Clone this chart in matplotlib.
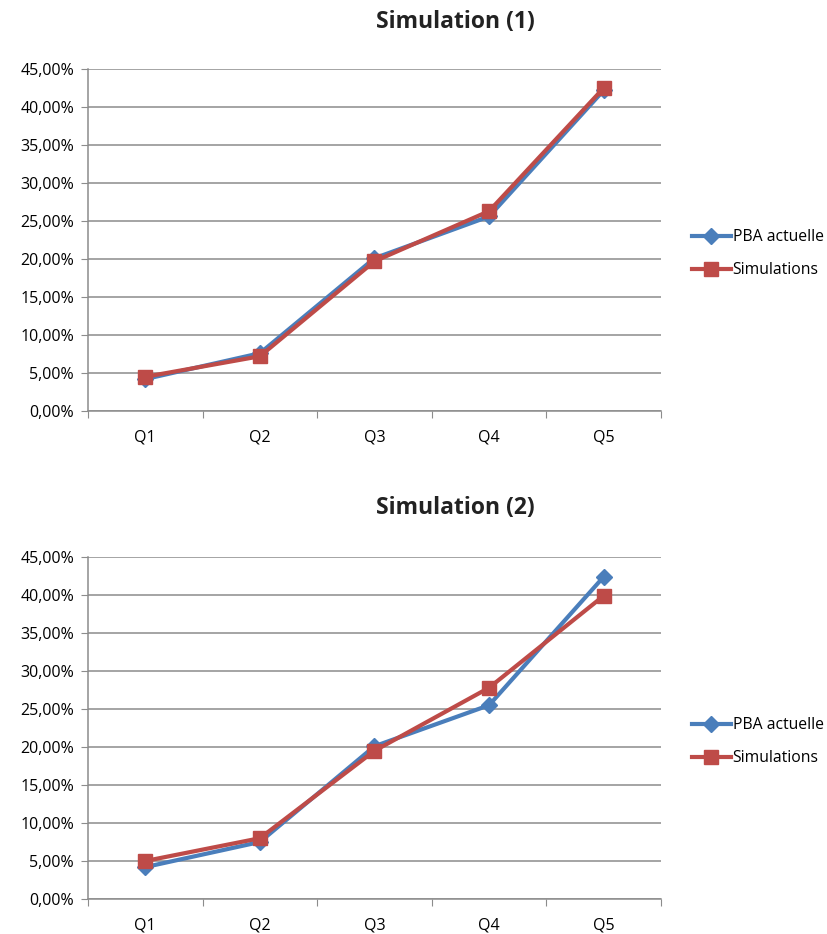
import matplotlib
matplotlib.use("Agg")
import matplotlib.pyplot as plt
from matplotlib.ticker import FixedLocator, FuncFormatter

plt.rcParams['font.family'] = ['Open Sans', 'DejaVu Sans']

categories = ["Q1", "Q2", "Q3", "Q4", "Q5"]
pba_1 = [4.2, 7.6, 20.1, 25.6, 42.2]
sim_1 = [4.5, 7.2, 19.7, 26.3, 42.5]
pba_2 = [4.2, 7.5, 20.1, 25.5, 42.4]
sim_2 = [5.0, 8.0, 19.5, 27.8, 39.9]
titles = ["Simulation (1)", "Simulation (2)"]
series_names = ["PBA actuelle", "Simulations"]

BLUE = "#4A7EBB"
RED = "#BE4B48"
GRID = "#8C8C8C"

fig = plt.figure(figsize=(8.27, 9.34), dpi=100)
W, H = 827, 934

def px_axes(left, top, right, bottom):
    return fig.add_axes([left / W, 1 - bottom / H, (right - left) / W, (bottom - top) / H])

axes = [px_axes(88, 69, 661, 411), px_axes(88, 557, 661, 899)]
data = [(pba_1, sim_1), (pba_2, sim_2)]
title_y = [22, 508]

for ax, (pba, sim), title, ty in zip(axes, data, titles, title_y):
    x = list(range(len(categories)))
    ax.plot(x, pba, color=BLUE, lw=3.0, marker="D", markersize=8, label=series_names[0], zorder=3)
    ax.plot(x, sim, color=RED, lw=3.0, marker="s", markersize=10, label=series_names[1], zorder=4)
    ax.set_xlim(-0.5, len(categories) - 0.5)
    ax.set_ylim(0, 45)
    ax.yaxis.set_major_locator(FixedLocator([i * 5 for i in range(10)]))
    ax.yaxis.set_major_formatter(FuncFormatter(lambda v, p: f"{v:.2f}%".replace(".", ",")))
    ax.grid(axis="y", color=GRID, lw=1.1)
    ax.set_axisbelow(True)
    ax.xaxis.set_major_locator(FixedLocator([i - 0.5 for i in range(len(categories) + 1)]))
    ax.xaxis.set_major_formatter(FuncFormatter(lambda v, p: ""))
    ax.xaxis.set_minor_locator(FixedLocator(x))
    ax.set_xticklabels(categories, minor=True)
    ax.tick_params(axis="x", which="minor", length=0, pad=13, labelsize=11.5)
    ax.tick_params(axis="x", which="major", length=5, color=GRID, direction="out")
    ax.tick_params(axis="y", length=5, color=GRID, labelsize=11.5, pad=5)
    for s in ["top", "right"]:
        ax.spines[s].set_visible(False)
    for s in ["left", "bottom"]:
        ax.spines[s].set_color(GRID)
        ax.spines[s].set_linewidth(1.1)
    fig.text(455 / W, 1 - ty / H, title, ha="center", va="center", fontsize=16.5, fontweight="bold", color="#222222")
    ax.legend(loc="center left", bbox_to_anchor=(1.04, 0.46), frameon=False, fontsize=11.3,
              handlelength=2.5, handletextpad=0.1, labelspacing=1.1, borderpad=0)

fig.savefig("out.png", dpi=100)
